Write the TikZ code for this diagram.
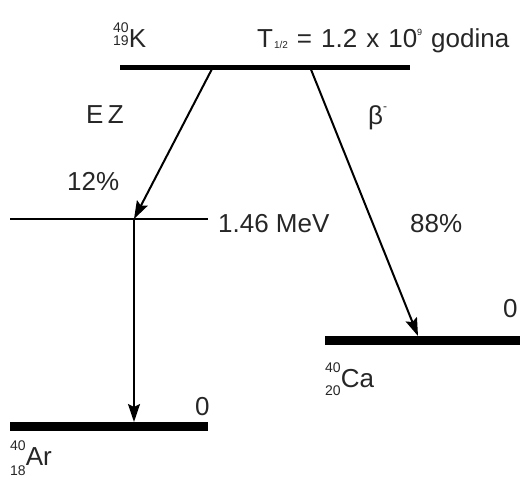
\documentclass[tikz,border=0pt]{standalone}
\usepackage{fontspec}
\setmainfont{Liberation Sans}
\usetikzlibrary{arrows.meta,positioning}

% nuclide label: optional drop of the lower number
\newcommand{\numsize}{\fontsize{14}{14}\selectfont}
\newcommand{\iso}[4][0pt]{\makebox[0pt][l]{\raisebox{15pt}{\numsize #2}}\raisebox{-#1}{\numsize #3}#4}

\tikzset{
  level/.style={line width=9pt},
  thinlevel/.style={line width=2pt},
  decay/.style={line width=2pt,-{Stealth[length=18pt,width=12pt,inset=3pt]}},
  lbl/.style={anchor=base west,inner sep=0pt,text=black!85}
}

\begin{document}
\begin{tikzpicture}[x=1pt,y=-1pt,font=\fontsize{26}{30}\selectfont]
\useasboundingbox (0,0) rectangle (520,477);
% levels
\coordinate (k-l) at (120,67);
\coordinate (k-r) at (410,67);
\coordinate (mev-l) at (10,219);
\coordinate (mev-r) at (208,219);
\coordinate (ar-l) at (10,426);
\coordinate (ar-r) at (208,426);
\coordinate (ca-l) at (325,340);
\coordinate (ca-r) at (520,340);
\draw[line width=5pt] (k-l) -- (k-r);
\draw[thinlevel] (mev-l) -- (mev-r);
\draw[level] (ar-l) -- (ar-r);
\draw[level] (ca-l) -- (ca-r);
% decays
\coordinate (ez-start) at (213,67);
\coordinate (beta-start) at (310,67);
\coordinate (mev-hit) at (134,219);
\coordinate (ar-hit) at (134,422);
\coordinate (ca-hit) at (418,336);
\draw[decay] (ez-start) -- (mev-hit);
\draw[decay] (mev-hit) -- (ar-hit);
\draw[decay] (beta-start) -- (ca-hit);
% labels
\node[lbl] (k) at (113,47) {\iso[-2pt]{40}{19}{K}};
\node[lbl] (thalf) at (257,47) {\spaceskip=9pt T\hspace{1pt}\raisebox{-1pt}{\fontsize{10}{10}\selectfont 1/2} = 1.2 x 10\raisebox{12pt}{\fontsize{9}{9}\selectfont 9} godina};
\node[lbl] (ez) at (86,123) {E\,Z};
\node[lbl] (pez) at (67,190) {12\%};
\node[lbl] (beta) at (368,124) {β\raisebox{14pt}{\fontsize{12}{12}\selectfont -}};
\node[lbl] (mev) at (218,232) {1.46 MeV};
\node[lbl] (pbeta) at (410,232) {88\%};
\node[lbl] (zca) at (503,317) {0};
\node[lbl] (zar) at (195,415) {0};
\node[lbl] (ca) at (325,387) {\iso[8pt]{40}{20}{Ca}};
\node[lbl] (ar) at (10,465) {\iso[10pt]{40}{18}{Ar}};
\end{tikzpicture}
\end{document}
